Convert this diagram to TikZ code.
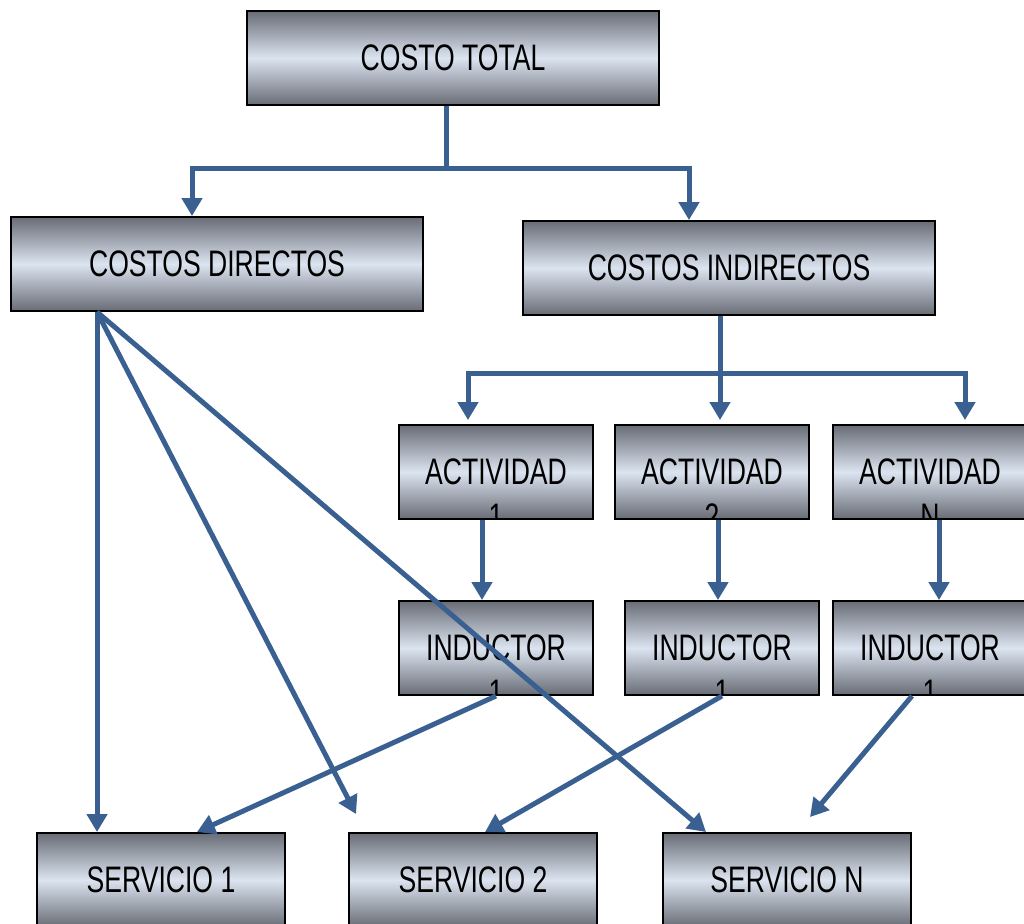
\documentclass[tikz,border=0pt]{standalone}
\usepackage{fontspec}
\setmainfont{Liberation Sans}[FakeStretch=0.72]
\usepackage{xcolor}
\usepackage{tikz}
\usetikzlibrary{arrows.meta,calc}

\definecolor{cajagris}{RGB}{104,108,117}
\definecolor{cajaazul}{RGB}{219,228,240}
\definecolor{flecha}{RGB}{58,96,146}
\newcommand{\cajafont}{\fontsize{21}{24}\selectfont}

\tikzset{
  caja/.style={draw=black, line width=1.1pt, inner sep=0pt,
    minimum height=1.88cm, font=\cajafont,
    top color=cajagris, bottom color=cajagris, middle color=cajaazul},
  ancha/.style={caja, minimum width=8.24cm},
  media/.style={caja, minimum width=4.96cm},
  chica/.style={caja, minimum width=3.88cm},
  segunda/.style={path picture={
      \node[font=\cajafont] at ([yshift=-0.9cm]path picture bounding box.center) {#1};}},
  linea/.style={draw=flecha, line width=0.1cm},
  enlace/.style={linea, -{Triangle[length=0.36cm,width=0.4cm]}}
}

\begin{document}
\begin{tikzpicture}[x=0.02cm,y=-0.02cm]
      \useasboundingbox (0,0) rectangle (1024,923);

      % cajas
      \node[ancha] (total) at (453,58) {COSTO TOTAL};
      \node[ancha] (directos) at (217,264) {COSTOS DIRECTOS};
      \node[ancha] (indirectos) at (729,268) {COSTOS INDIRECTOS};

      \node[chica,segunda=1] (act1) at (496,472) {ACTIVIDAD};
      \node[chica,segunda=2] (act2) at (712,472) {ACTIVIDAD};
      \node[chica,segunda=N] (actN) at (930,472) {ACTIVIDAD};

      \node[chica,segunda=1] (ind1) at (496,648) {INDUCTOR};
      \node[chica,segunda=1] (ind2) at (722,648) {INDUCTOR};
      \node[chica,segunda=1] (indN) at (930,648) {INDUCTOR};

      \node[media] (serv1) at (161,880) {SERVICIO 1};
      \node[media] (serv2) at (473,880) {SERVICIO 2};
      \node[media] (servN) at (787,880) {SERVICIO N};

      % ramas superiores
      \coordinate (tj) at (446,168);
      \coordinate (tl) at (192,168);
      \coordinate (tr) at (689,168);
      \draw[linea] (total.south -| tj) -- (tj);
      \draw[enlace] (tj) -| (directos.north -| tl);
      \draw[enlace] (tj) -| (indirectos.north -| tr);

      \coordinate (ij) at (720,373);
      \coordinate (il) at (468,373);
      \coordinate (ir) at (965,373);
      \draw[enlace] (indirectos.south -| ij) -- ($(act2.north -| ij)+(0,-4)$);
      \draw[enlace] (ij) -| ($(act1.north -| il)+(0,-4)$);
      \draw[enlace] (ij) -| ($(actN.north -| ir)+(0,-4)$);

      % actividades a inductores
      \draw[enlace] ([xshift=-0.28cm]act1.south) -- ([xshift=-0.28cm]ind1.north);
      \draw[enlace] ([xshift=0.12cm]act2.south) -- ([xshift=0.12cm]act2.south |- ind2.north);
      \draw[enlace] ([xshift=0.18cm]actN.south) -- ([xshift=0.18cm]indN.north);

      % costos directos a servicios
      \coordinate (dsal) at ([xshift=-2.4cm]directos.south);
      \draw[enlace] (dsal) -- (serv1.north -| dsal);
      \draw[enlace] (dsal) -- ([xshift=0.16cm,yshift=0.36cm]serv2.north west);
      \draw[enlace] (dsal) -- ([xshift=0.88cm]servN.north west);

      % inductores a servicios
      \draw[enlace] (ind1.south) -- ([xshift=0.72cm]serv1.north);
      \draw[enlace] (ind2.south) -- ([xshift=0.24cm]serv2.north);
      \draw[enlace] ([xshift=-0.36cm]indN.south) -- ([xshift=0.46cm,yshift=0.3cm]servN.north);
\end{tikzpicture}
\end{document}
